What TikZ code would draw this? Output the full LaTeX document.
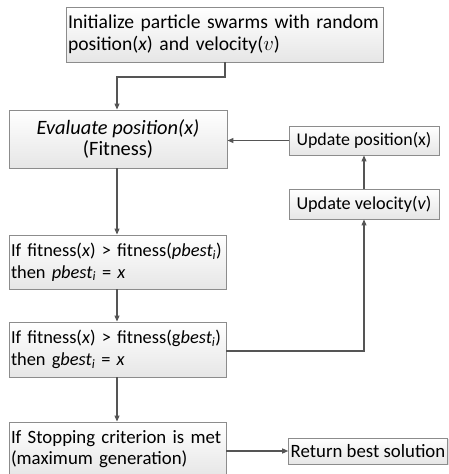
\documentclass[tikz,border=0pt]{standalone}
\usepackage{fontspec}
\setmainfont{Carlito}
\usetikzlibrary{arrows.meta,shadows}
\definecolor{linec}{HTML}{555555}
\definecolor{boxc}{HTML}{8C8C8C}
\definecolor{botc}{HTML}{E6E6E6}
\tikzset{
  box/.style={draw=boxc, line width=0.9pt, top color=white, bottom color=botc,
    drop shadow={shadow xshift=1.2pt, shadow yshift=-1.2pt, opacity=0.25, fill=gray},
    rectangle, inner sep=2pt, font=\fontsize{18.4}{21.5}\selectfont},
  lbox/.style={box, align=left, text width=#1},
  cbox/.style={box, align=center},
  conn/.style={draw=linec, line width=1.1pt, -{Triangle[length=6pt,width=5pt]}},
}
\begin{document}
\begin{tikzpicture}[x=1pt,y=-1pt]
\useasboundingbox (0,0) rectangle (449,474);
\node[lbox=313pt, minimum width=317pt, minimum height=55pt, font=\fontsize{19.6}{21.5}\selectfont] (init) at (224.5,34.5)
  {Initialize particle swarms with random\\position(\textit{x}) and velocity($v$)};
\node[cbox, minimum width=218pt, minimum height=58pt, font=\fontsize{20.4}{21.5}\selectfont] (eval) at (118,139)
  {\textit{Evaluate position(x)}\\(Fitness)};
\node[cbox, minimum width=150pt, minimum height=29pt, font=\fontsize{17.9}{21.5}\selectfont] (pos) at (364,140.5)
  {Update position(x)};
\node[cbox, minimum width=150pt, minimum height=30pt, font=\fontsize{18.2}{21.5}\selectfont] (vel) at (364,204)
  {Update velocity(\textit{v})};
\node[lbox=213pt, minimum width=217pt, minimum height=54pt] (pbest) at (117.5,262)
  {If fitness(\textit{x}) > fitness(\textit{pbest\textsubscript{i}})\\then \textit{pbest\textsubscript{i}} = \textit{x}};
\node[lbox=213pt, minimum width=217pt, minimum height=55pt] (gbest) at (117.5,349.5)
  {If fitness(\textit{x}) > fitness(g\textit{best\textsubscript{i}})\\then g\textit{best\textsubscript{i}} = \textit{x}};
\node[lbox=213pt, minimum width=217pt, minimum height=54pt, font=\fontsize{18.8}{21.5}\selectfont] (stop) at (117.5,449)
  {If Stopping criterion is met\\(maximum generation)};
\node[cbox, minimum width=158pt, minimum height=26pt, font=\fontsize{18.8}{21.5}\selectfont] (ret) at (368,451)
  {Return best solution};
\coordinate (c1) at (225,77);
\coordinate (c2) at (117,77);
\coordinate (c3) at (364,351);
\draw[conn] (init.south -| c1) -- (c1) -- (c2) -- (c2 |- eval.north);
\draw[conn] (pos.west) -- (pos.west -| eval.east);
\draw[conn] (vel.north) -- (pos.south);
\draw[conn] (eval.south -| c2) -- (c2 |- pbest.north);
\draw[conn] (pbest.south -| c2) -- (c2 |- gbest.north);
\draw[conn] (gbest.south -| c2) -- (c2 |- stop.north);
\draw[conn] (gbest.east |- c3) -- (c3) -- (vel.south);
\draw[conn] (stop.east |- ret.west) -- (ret.west);
\end{tikzpicture}
\end{document}
